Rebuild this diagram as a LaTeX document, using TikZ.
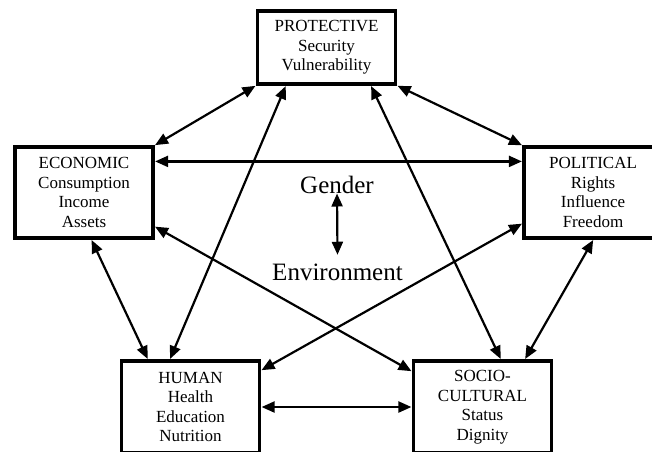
\documentclass[tikz,border=0pt]{standalone}
\usepackage{fontspec}
\setmainfont{Liberation Serif}
\usetikzlibrary{arrows.meta}
\begin{document}
\begin{tikzpicture}[x=1pt,y=-1pt,
  box/.style={draw, line width=3.2pt, minimum width=138pt, minimum height=91pt, inner sep=0pt, align=center, font=\fontsize{17}{19.5}\selectfont},
  big/.style={inner sep=0pt, font=\fontsize{25}{28}\selectfont},
  link/.style={line width=2.2pt, {Triangle[length=13pt,width=11pt]}-{Triangle[length=13pt,width=11pt]}, shorten <=0.5pt, shorten >=0.5pt}]
\useasboundingbox (0,0) rectangle (652,451);
\clip (0,0) rectangle (652,451);
\fill[white] (0,0) rectangle (652,451);
\node[box, minimum height=73pt] (prot) at (326.5,47.5) {PROTECTIVE\\Security\\Vulnerability};
\node[box] (econ) at (84,192.5) {ECONOMIC\\Consumption\\Income\\Assets};
\node[box] (pol) at (593,192.5) {POLITICAL\\Rights\\Influence\\Freedom};
\node[box, minimum height=92pt] (human) at (190.5,407) {HUMAN\\Health\\Education\\Nutrition};
\node[box, minimum height=92pt] (socio) at (482.5,407) {SOCIO-\\CULTURAL\\Status\\Dignity};
\node[big, anchor=base] (gender) at (337,193) {Gender};
\node[big, anchor=base] (env) at (337.5,280) {Environment};
\draw[link] (prot.south west) -- (econ.north east);
\draw[link] (prot.south east) -- (pol.north west);
\draw[link] ([yshift=-16pt]econ.north east) -- ([yshift=-16pt]pol.north west);
\draw[link] ([xshift=78pt]econ.south west) -- ([xshift=28pt]human.north west);
\draw[link] ([xshift=71pt]pol.south west) -- ([xshift=113pt]socio.north west);
\draw[link] ([xshift=30pt]prot.south west) -- ([xshift=50pt]human.north west);
\draw[link] ([xshift=115pt]prot.south west) -- ([xshift=89pt]socio.north west);
\draw[link] ([yshift=-81pt]econ.north east) -- ([yshift=-12pt]socio.north west);
\draw[link] ([yshift=-78pt]pol.north west) -- ([yshift=-11pt]human.north east);
\draw[link] (human.east) -- (socio.west);
\draw[link] (gender.base) -- ([yshift=8pt]env.north);
\end{tikzpicture}
\end{document}
